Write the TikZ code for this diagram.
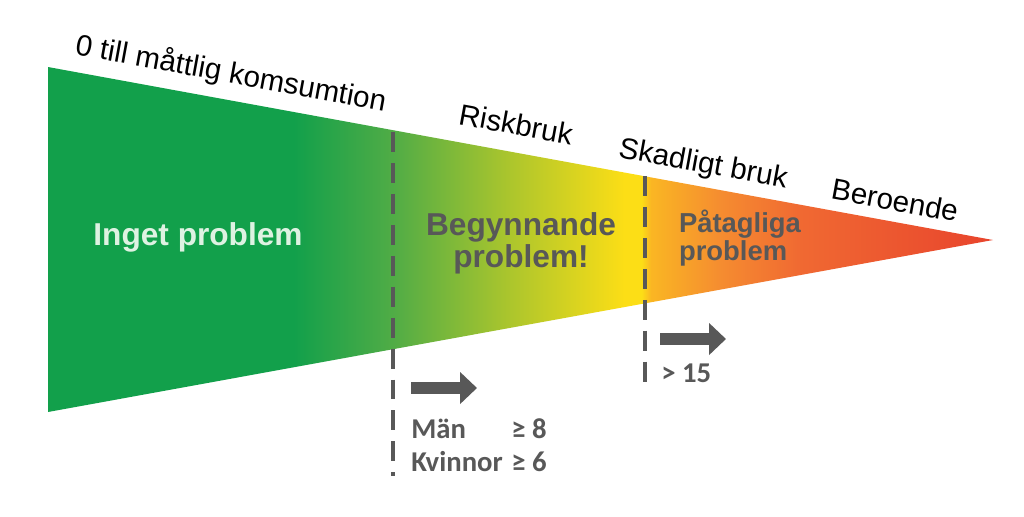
\documentclass[tikz,border=0pt]{standalone}
\usepackage{fontspec}
\setmainfont{Liberation Sans}
\newfontfamily\calib{Carlito}
\usetikzlibrary{arrows.meta}
\definecolor{rgreen}{RGB}{18,160,75}
\definecolor{lgreen}{RGB}{80,172,70}
\definecolor{mgreen}{RGB}{170,197,45}
\definecolor{ryellow}{RGB}{252,222,22}
\definecolor{rorange}{RGB}{250,182,35}
\definecolor{dorange}{RGB}{245,140,48}
\definecolor{ored}{RGB}{240,105,50}
\definecolor{rred}{RGB}{232,68,45}
\definecolor{txtgray}{RGB}{88,88,88}
\definecolor{palegreen}{RGB}{222,242,226}
\pgfdeclarehorizontalshading{riskwedge}{100bp}{color(0bp)=(rgreen); color(25bp)=(rgreen); color(38bp)=(rgreen); color(43.25bp)=(lgreen); color(49.3bp)=(mgreen); color(55.5bp)=(ryellow); color(56.4bp)=(ryellow); color(56.9bp)=(rorange); color(60.6bp)=(dorange); color(64.8bp)=(ored); color(75bp)=(rred); color(100bp)=(rred)}

\begin{document}
\begin{tikzpicture}[x=0.025cm, y=-0.025cm,
    phase/.style={font=\fontsize{21}{25}\selectfont, rotate=-10.4},
    zone/.style={font=\bfseries\fontsize{22.5}{23}\selectfont, align=center, text=txtgray},
    limit/.style={txtgray, line width=2.8pt, dash pattern=on 14.2pt off 7.8pt},
    push/.style={txtgray, line width=9.2pt, -{Triangle[length=12pt,width=22pt]}},
    dose/.style={font=\calib\bfseries\fontsize{20.4}{22.8}\selectfont, text=txtgray, inner sep=0pt, anchor=base west}]
  \useasboundingbox (0,0) rectangle (1024,516);
  % the wedge
  \shade[shading=riskwedge] (48,67) -- (993,240) -- (48,412) -- cycle;
  \draw[limit] (393,132) -- (393,476);
  \draw[limit] (645,176) -- (645,390);
  % stages above the wedge
  \node[phase] (moderate) at (231,74) {0 till måttlig komsumtion};
  \node[phase] (risk) at (516,124) {Riskbruk};
  \node[phase] (harm) at (703,165) {Skadligt bruk};
  \node[phase] (dep) at (895,200) {Beroende};
  % problem zones
  \node[zone, text=palegreen] (none) at (198,237) {Inget problem};
  \node[zone] (begin) at (521,243) {Begynnande\\problem!};
  \node[zone, align=left, font=\bfseries\fontsize{19.5}{20}\selectfont] (clear) at (740,238) {Påtagliga\\problem};
  % limits
  \draw[push] (411,388) -- (477,388);
  \draw[push] (660,339) -- (726,339);
  \node[dose] (men) at (411,438) {Män};
  \node[dose] (menval) at (511,438) {≥ 8};
  \node[dose] (women) at (411,471) {Kvinnor};
  \node[dose] (womenval) at (511,471) {≥ 6};
  \node[dose] (heavy) at (661,382) {> 15};
\end{tikzpicture}
\end{document}
